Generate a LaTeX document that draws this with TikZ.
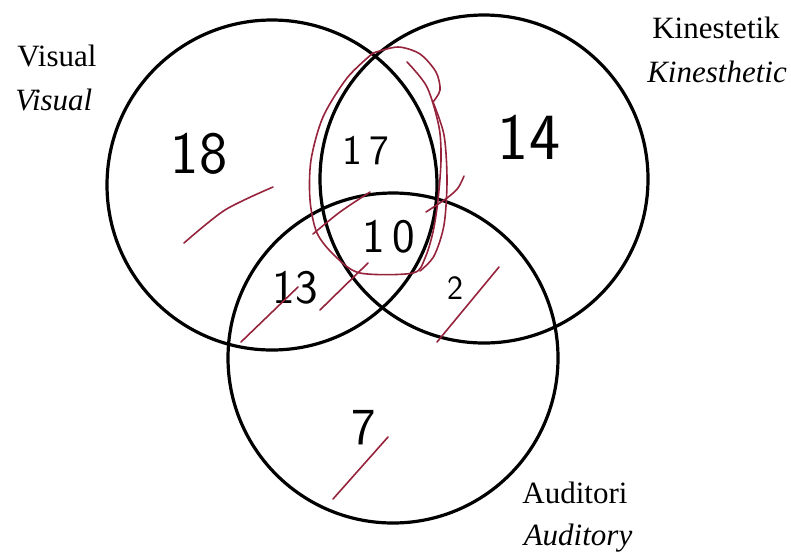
\documentclass[tikz,border=0pt]{standalone}
\usepackage{fontspec}
\setmainfont{Liberation Serif}
\usetikzlibrary{positioning}
\definecolor{penred}{RGB}{150,35,60}

\tikzset{
  setring/.style={line width=1.6pt, black},
  setlabel/.style={font=\fontsize{15.5}{18}\selectfont, inner sep=0pt, anchor=base},
  tally/.style={font=\sffamily\fontsize{24}{26}\selectfont, inner sep=0pt},
  redpen/.style={penred, line width=0.8pt, line cap=round, line join=round}
}

\begin{document}
\begin{tikzpicture}[x=0.5pt, y=-0.5pt]
  \useasboundingbox (0,0) rectangle (791,553);

  % Set centres
  \coordinate (vis) at (272,185);
  \coordinate (kin) at (484,179);
  \coordinate (aud) at (393,358);

  % Set circles
  \draw[setring] (vis) circle[radius=165];
  \draw[setring] (kin) circle[radius=164];
  \draw[setring] (aud) circle[radius=165];

  % Set labels
  \node[setlabel, anchor=base west] (vislab) at (17,66) {Visual};
  \node[setlabel, anchor=base west] (visen) at (15,110) {\itshape Visual};
  \node[setlabel] (kinlab) at (716,38) {Kinestetik};
  \node[setlabel] (kinen) at (717,82) {\itshape Kinesthetic};
  \node[setlabel] (audlab) at (575,503) {Auditori};
  \node[setlabel] (auden) at (578,545) {\itshape Auditory};

  % Counts
  \node[tally, font=\sffamily\fontsize{30}{32}\selectfont] (n18) at (199,154) {18};
  \node[tally, font=\sffamily\fontsize{21}{23}\selectfont] (n17) at (366,151) {1\,7};
  \node[tally, font=\sffamily\fontsize{33}{35}\selectfont] (n14) at (529,137) {14};
  \node[tally] (n10) at (389,237) {1\,0};
  \node[tally] (n13) at (295,288) {13};
  \node[tally, font=\sffamily\fontsize{17}{19}\selectfont] (n2) at (455,288) {2};
  \node[tally, font=\sffamily\fontsize{26}{28}\selectfont] (n7) at (364,428) {7};

  % Tally strokes
  \draw[redpen] plot[smooth] coordinates {(184,243) (225,210) (273,187)};
  \draw[redpen] (241,342) -- (298,287);
  \draw[redpen] (320,310) -- (368,263);
  \draw[redpen] plot[smooth] coordinates {(313,234) (340,212) (370,192)};
  \draw[redpen] (437,342) -- (499,267);
  \draw[redpen] (333,499) -- (388,437);
  \draw[redpen] plot[smooth] coordinates {(426,212) (447,198) (458,188) (464,176)};

  % Loop round the overlap
  \draw[redpen] plot[smooth] coordinates {(407,62) (427,87) (439,127) (441,160) (438,200)
    (433,232) (425,258) (413,273) (360,273) (335,256) (317,233) (310,200) (311,160)
    (323,117) (347,78) (373,53)};
  \draw[redpen] plot[smooth] coordinates {(373,53) (398,47) (420,54) (436,72) (440,90) (433,102)};
  \draw[redpen] plot[smooth] coordinates {(433,102) (444,135) (447,180) (444,225) (434,256) (420,271)};
\end{tikzpicture}
\end{document}
